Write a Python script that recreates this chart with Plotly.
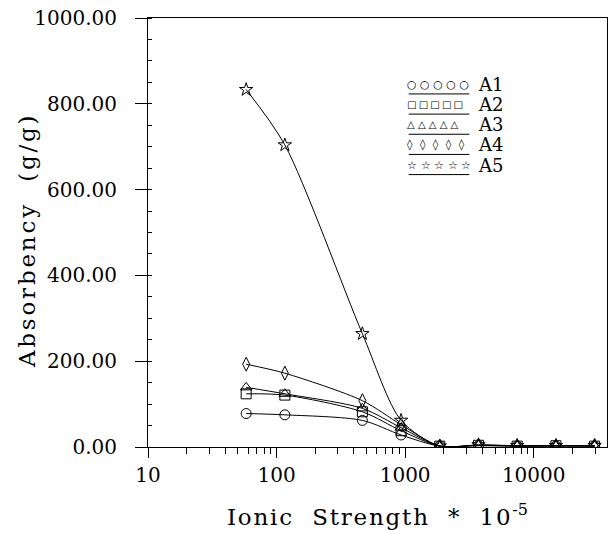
import plotly.graph_objects as go

# Ionic strength * 1e-5
ionic = [58, 116, 465, 930, 1860, 3720, 7440, 14880, 29760]
series_names = ["A1", "A2", "A3", "A4", "A5"]
A1 = [78, 75, 62, 28, 2, 3, 2, 2, 2]
A2 = [124, 121, 82, 38, 2, 4, 2, 3, 2]
A3 = [139, 124, 90, 45, 2, 4, 3, 3, 3]
A4 = [193, 172, 108, 52, 2, 4, 3, 3, 3]
A5 = [833, 704, 264, 62, 2, 5, 3, 3, 3]
series_values = [A1, A2, A3, A4, A5]
symbols = ["circle-open", "square-open", "triangle-up-open", "diamond-tall-open", "star-open"]
legend_glyphs = ["○○○○○", "□□□□□", "△△△△△", "◊◊◊◊◊", "☆☆☆☆☆"]
x_tickvals = [10, 100, 1000, 10000]
x_ticktext = ["10", "100", "1000", "10000"]
y_tickvals = [0, 200, 400, 600, 800, 1000]

FONT = "DejaVu Serif"
L, R, T, B, W, H = 148, 3, 18, 87, 610, 534
glyph_spacing = [3.5, 2.2, 3.2, 7.5, 3.5]
glyph_sizes = [11, 10, 10, 11, 11]


def spaced(txt, px):
    return f'<span style="letter-spacing:{px}px">{txt}</span>'


fig = go.Figure()
for name, vals, sym in zip(series_names, series_values, symbols):
    fig.add_trace(go.Scatter(
        x=ionic, y=vals, name=name, mode="lines+markers",
        line=dict(color="black", width=1, shape="spline", smoothing=0.8),
        marker=dict(symbol=sym, size=10, color="black", line=dict(width=1, color="black")),
        showlegend=False,
    ))

# legend drawn as text
leg_y0 = 0.845
leg_dy = 0.047
for i, (name, glyph) in enumerate(zip(series_names, legend_glyphs)):
    yy = leg_y0 - i * leg_dy
    fig.add_annotation(xref="paper", yref="paper", x=0.560, y=yy, xanchor="left", yanchor="middle",
                       text=spaced(glyph, glyph_spacing[i]), showarrow=False,
                       font=dict(family=FONT, size=glyph_sizes[i], color="black"))
    fig.add_annotation(xref="paper", yref="paper", x=0.715, y=yy, xanchor="left", yanchor="middle",
                       text=name, showarrow=False, font=dict(family=FONT, size=18, color="black"))
    fig.add_shape(type="line", xref="paper", yref="paper", x0=0.568, x1=0.70,
                  y0=yy - 0.022, y1=yy - 0.022, line=dict(color="black", width=1))

# y-axis title as annotation (placed close to the tick labels, as in the reference)
fig.add_annotation(xref="paper", yref="paper", x=(27 - L) / (W - L - R), y=0.48,
                   xanchor="center", yanchor="middle", textangle=-90, showarrow=False,
                   text=spaced("Absorbency  (g/g)", 2.8),
                   font=dict(family=FONT, size=23, color="black"))

fig.update_layout(
    width=W, height=H,
    margin=dict(l=L, r=R, t=T, b=B),
    paper_bgcolor="white", plot_bgcolor="white",
    font=dict(family=FONT, color="black"),
    xaxis=dict(
        type="log", range=[1, 4.57],
        tickvals=x_tickvals, ticktext=x_ticktext,
        ticks="outside", ticklen=10, tickcolor="black",
        showline=True, linecolor="black", linewidth=1, mirror=True,
        showgrid=False, zeroline=False,
        tickfont=dict(family=FONT, size=20),
        minor=dict(ticks="outside", ticklen=6, tickcolor="black", showgrid=False,
                   tickvals=[v * m for v in [10, 100, 1000, 10000] for m in range(2, 10)]),
        title=dict(text=spaced("Ionic  Strength  *  10", 1.8) + "<sup>-5</sup>",
                   font=dict(family=FONT, size=23), standoff=22),
    ),
    yaxis=dict(
        range=[0, 1000],
        tickvals=y_tickvals, tickformat=".2f",
        ticks="outside", ticklen=12, tickcolor="black",
        showline=True, linecolor="black", linewidth=1, mirror=True,
        showgrid=False, zeroline=False,
        tickfont=dict(family=FONT, size=20),
        ticklabelstandoff=14,
        minor=dict(ticks="inside", ticklen=4, tickcolor="black", dtick=50, showgrid=False),
    ),
)

fig.write_html("out.html")
